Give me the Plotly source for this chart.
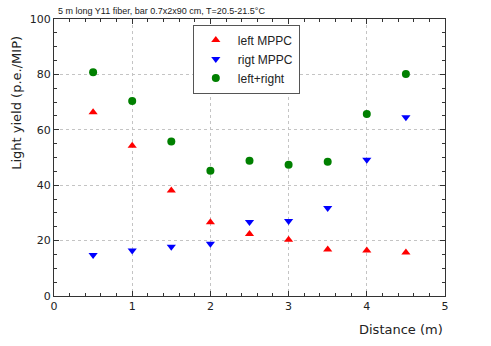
import plotly.graph_objects as go

distance = [0.5, 1.0, 1.5, 2.0, 2.5, 3.0, 3.5, 4.0, 4.5]
left_mppc = [66.3, 54.2, 38.1, 26.6, 22.4, 20.3, 16.8, 16.4, 15.7]
right_mppc = [14.8, 16.4, 17.8, 18.9, 26.7, 27.1, 31.8, 49.2, 64.5]
left_plus_right = [80.8, 70.4, 55.8, 45.2, 48.8, 47.4, 48.5, 65.7, 80.1]

x_ticks = [0, 1, 2, 3, 4, 5]
y_ticks = [0, 20, 40, 60, 80, 100]

FONT = "DejaVu Sans"

fig = go.Figure()
fig.add_trace(go.Scatter(x=distance, y=left_mppc, mode="markers", name="left MPPC",
                         marker=dict(symbol="triangle-up", size=8, color="#ff0000")))
fig.add_trace(go.Scatter(x=distance, y=right_mppc, mode="markers", name="rigt MPPC",
                         marker=dict(symbol="triangle-down", size=8, color="#0000ff")))
fig.add_trace(go.Scatter(x=distance, y=left_plus_right, mode="markers", name="left+right",
                         marker=dict(symbol="circle", size=8, color="#008000")))

axis_common = dict(
    showline=True, linecolor="#333333", linewidth=1, mirror="allticks",
    ticks="inside", ticklen=5, tickcolor="#333333",
    showgrid=True, gridcolor="#c4c4c4", griddash="dot", gridwidth=1,
    zeroline=False, tickfont=dict(family=FONT, size=11, color="#222222"),
    automargin=False,
)

fig.update_xaxes(range=[0, 5], tickvals=x_ticks,
                 minor=dict(dtick=0.2, ticks="inside", ticklen=3, tickcolor="#333333", showgrid=False),
                 **axis_common)
fig.update_yaxes(range=[0, 100], tickvals=y_ticks,
                 minor=dict(dtick=5, ticks="inside", ticklen=3, tickcolor="#333333", showgrid=False),
                 **axis_common)

fig.add_annotation(text="Distance (m)", xref="paper", yref="paper", x=1, y=-0.085,
                   xanchor="right", yanchor="top", showarrow=False,
                   font=dict(family=FONT, size=13, color="#222222"))
fig.add_annotation(text="Light yield (p.e./MIP)", xref="paper", yref="paper", x=-0.095, y=0.448,
                   xanchor="center", yanchor="bottom", textangle=-90, showarrow=False,
                   font=dict(family=FONT, size=13, color="#222222"))
fig.add_annotation(text="5 m long Y11 fiber, bar 0.7x2x90 cm, T=20.5-21.5°C",
                   xref="paper", yref="paper", x=0.005, y=1.005, xanchor="left", yanchor="bottom",
                   showarrow=False, font=dict(family="Liberation Sans", size=9, color="#222222"))

fig.update_layout(
    width=491, height=346,
    margin=dict(l=54, r=46, t=19, b=50, autoexpand=False),
    plot_bgcolor="white", paper_bgcolor="white",
    showlegend=True,
    legend=dict(x=0.355, y=0.98, xanchor="left", yanchor="top",
                bgcolor="white", bordercolor="#555555", borderwidth=1,
                font=dict(family="Liberation Sans", size=12, color="#222222"),
                itemwidth=34, tracegroupgap=0),
)

fig.write_html("out.html", config={"displayModeBar": False})
with open("out.html", "r", encoding="utf-8") as f:
    html = f.read()
html = html.replace("<head>", "<head><style>html,body{margin:0;padding:0;overflow:hidden;}</style>", 1)
with open("out.html", "w", encoding="utf-8") as f:
    f.write(html)
